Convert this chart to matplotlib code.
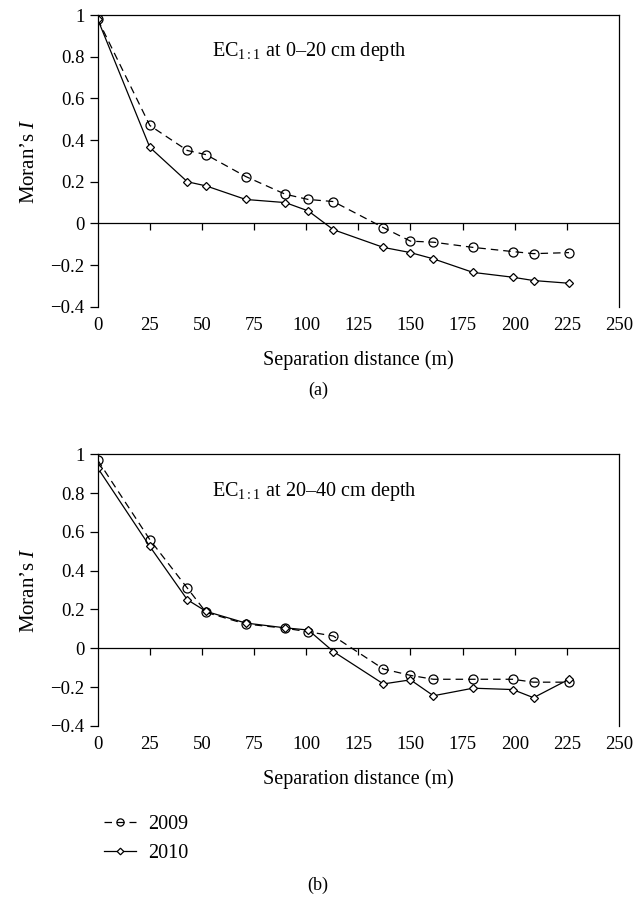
import matplotlib
matplotlib.use('Agg')
import matplotlib.pyplot as plt

plt.rcParams['font.family'] = ['Liberation Serif', 'DejaVu Serif']
plt.rcParams['mathtext.fontset'] = 'custom'
plt.rcParams['mathtext.rm'] = 'Liberation Serif'
plt.rcParams['mathtext.it'] = 'Liberation Serif:italic'

dist = [0, 25, 43, 52, 71, 90, 101, 113, 137, 150, 161, 180, 199, 209, 226]

top_2009 = [0.98, 0.47, 0.35, 0.33, 0.225, 0.14, 0.115, 0.105, -0.02, -0.085,
            -0.09, -0.115, -0.135, -0.145, -0.14]
top_2010 = [0.98, 0.365, 0.20, 0.18, 0.115, 0.10, 0.06, -0.03, -0.115, -0.14,
            -0.17, -0.235, -0.258, -0.274, -0.287]

bot_2009 = [0.97, 0.56, 0.31, 0.185, 0.125, 0.103, 0.085, 0.063, -0.107, -0.14,
            -0.16, -0.16, -0.16, -0.175, -0.175]
bot_2010 = [0.93, 0.525, 0.25, 0.19, 0.13, 0.105, 0.094, -0.017, -0.184, -0.163,
            -0.245, -0.206, -0.213, -0.255, -0.16]

xticks = [0, 25, 50, 75, 100, 125, 150, 175, 200, 225, 250]
yticks = [-0.4, -0.2, 0, 0.2, 0.4, 0.6, 0.8, 1]
ylabels = ['\u22120.4', '\u22120.2', '0', '0.2', '0.4', '0.6', '0.8', '1']

fig = plt.figure(figsize=(6.36, 9.05), dpi=100)


def panel(rect, y09, y10, note, note_y, tag, tag_y):
    ax = fig.add_axes(rect)
    ax.plot(dist, y09, color='black', lw=0.9, linestyle=(0, (6, 4)),
            marker='o', ms=6.5, mfc='none', mec='black', mew=0.9, label='2009')
    ax.plot(dist, y10, color='black', lw=0.9, marker='D', ms=4.2,
            mfc='white', mec='black', mew=0.9, label='2010')
    ax.set_xlim(0, 250)
    ax.set_ylim(-0.4, 1)
    ax.set_yticks(yticks)
    ax.set_yticklabels(ylabels)
    ax.set_xticks(xticks)
    ax.tick_params(axis='x', length=0, labelsize=13.5, pad=7)
    ax.tick_params(axis='y', length=6, width=0.9, labelsize=13.5, direction='out')
    ax.spines['bottom'].set_visible(False)
    for s in ['top', 'right', 'left']:
        ax.spines[s].set_linewidth(0.9)
    ax.axhline(0, color='black', lw=0.9)
    sec = ax.secondary_xaxis(0.4 / 1.4)
    sec.set_xticks(xticks[1:-1])
    sec.tick_params(axis='x', length=5, width=0.9, direction='out', labelbottom=False)
    sec.spines['bottom'].set_visible(False)
    ax.set_ylabel('Moran\u2019s $I$', fontsize=15, labelpad=8)
    ax.set_xlabel('Separation distance (m)', fontsize=14.5, labelpad=12)
    ax.text(0.219, note_y, note, transform=ax.transAxes, fontsize=14.5,
            ha='left', va='center')
    fig.text(0.5, tag_y, tag, ha='center', va='center', fontsize=13)
    return ax


panel([0.1536, 0.661, 0.8197, 0.3224], top_2009, top_2010,
      'EC$_{\\mathrm{1:1}}$ at 0\u201320 cm depth', 0.875, '(a)', 1 - 390 / 905)
ax2 = panel([0.1536, 0.198, 0.8197, 0.300], bot_2009, bot_2010,
            'EC$_{\\mathrm{1:1}}$ at 20\u201340 cm depth', 0.862, '(b)', 1 - 885 / 905)

handles, labels = ax2.get_legend_handles_labels()
fig.legend(handles, labels, loc='center left',
           bbox_to_anchor=(0.135, 1 - 839 / 905), frameon=False, fontsize=14.5,
           handlelength=1.6, handletextpad=0.6, labelspacing=0.5, markerscale=0.8)

fig.savefig('out.png', dpi=100)
